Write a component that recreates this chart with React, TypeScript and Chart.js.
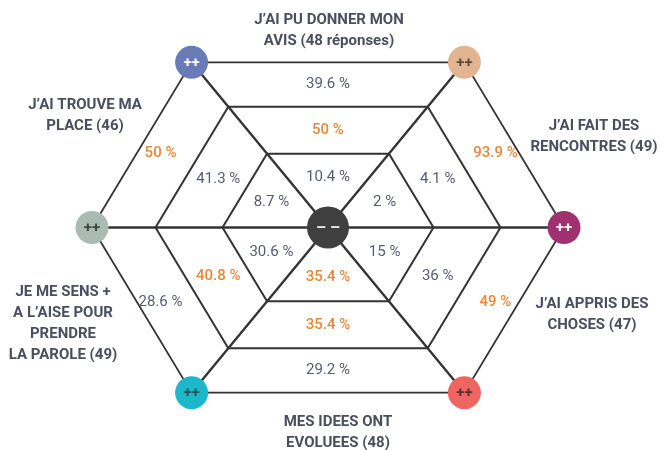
import { useEffect, useRef } from "react";
import { Chart, registerables } from "chart.js";

Chart.register(...registerables);

// ---- data ----
// sectors, counter-clockwise starting from the upper-right one
const SECTOR_LABELS: string[][] = [
  ["J’AI FAIT DES", "RENCONTRES (49)"],
  ["J’AI PU DONNER MON", "AVIS (48 réponses)"],
  ["J’AI TROUVE MA", "PLACE (46)"],
  ["JE ME SENS +", "A L’AISE POUR", "PRENDRE", "LA PAROLE (49)"],
  ["MES IDEES ONT", "EVOLUEES (48)"],
  ["J’AI APPRIS DES", "CHOSES (47)"],
];
const INNER_PCT = [2, 10.4, 8.7, 30.6, 35.4, 15];
const MIDDLE_PCT = [4.1, 50, 41.3, 40.8, 35.4, 36];
const OUTER_PCT = [93.9, 39.6, 50, 28.6, 29.2, 49];
const SPOKE_MARK = "++";
const CENTER_MARK = "– –";

// ---- layout / style ----
const RING_RADII = [105.5, 172.5, 236];
const DIRS: [number, number][] = [
  [1, 0], [0.578, 0.7], [-0.578, 0.7], [-1, 0], [-0.578, -0.7], [0.578, -0.7],
];
const SPOKE_COLORS = ["#a0306f", "#e2b590", "#6a7cb8", "#a9bbb2", "#1db7ca", "#ef6562"];
const SPOKE_TEXT = ["#ffffff", "#5b4c40", "#ffffff", "#3d4846", "#24525a", "#5c3030"];
const CENTER_COLOR = "#3f3f3f";
const LINE_COLOR = "#333333";
const GREY_TEXT = "#575c70";
const ORANGE_TEXT = "#e8873a";
const LABEL_TEXT = "#4a4e5f";
// centre of each sector caption block (same units as the axes)
const LABEL_ANCHORS: [number, number][] = [
  [266, 91], [1, 196.5], [-243, 111.5], [-265, -96], [10, -205], [264, -87],
];
const LABEL_LINE_H = 21;

export default function App() {
  const ref = useRef<HTMLCanvasElement | null>(null);

  useEffect(() => {
    if (!ref.current) return;
    const outerR = RING_RADII[RING_RADII.length - 1];

    const ringSets = RING_RADII.map((r, i) => ({
      data: [...DIRS, DIRS[0]].map(([dx, dy]) => ({ x: r * dx, y: r * dy })),
      showLine: true,
      borderColor: LINE_COLOR,
      borderWidth: i === 2 ? 1.8 : 2,
      pointRadius: 0,
      fill: false,
      order: 3,
    }));
    const spokeSets = DIRS.map(([dx, dy]) => ({
      data: [{ x: 0, y: 0 }, { x: outerR * dx, y: outerR * dy }],
      showLine: true,
      borderColor: LINE_COLOR,
      borderWidth: 2.4,
      pointRadius: 0,
      fill: false,
      order: 2,
    }));
    const circleSet = {
      data: DIRS.map(([dx, dy]) => ({ x: outerR * dx, y: outerR * dy })),
      showLine: false,
      pointRadius: 16.5,
      pointBackgroundColor: SPOKE_COLORS,
      pointBorderWidth: 0,
      order: 1,
    };
    const centerSet = {
      data: [{ x: 0, y: 0 }],
      showLine: false,
      pointRadius: 21,
      pointBackgroundColor: CENTER_COLOR,
      pointBorderWidth: 0,
      order: 1,
    };

    const textPlugin = {
      id: "texts",
      afterDatasetsDraw(chart: any) {
        const ctx = chart.ctx;
        const xs = chart.scales.x;
        const ys = chart.scales.y;
        const px = (x: number) => xs.getPixelForValue(x);
        const py = (y: number) => ys.getPixelForValue(y);
        ctx.save();
        ctx.textAlign = "center";
        ctx.textBaseline = "middle";

        // marks in circles
        DIRS.forEach(([dx, dy], i) => {
          ctx.fillStyle = SPOKE_TEXT[i];
          ctx.font = "bold 15px Roboto";
          ctx.fillText(SPOKE_MARK, px(outerR * dx), py(outerR * dy) + 1);
        });
        ctx.fillStyle = "#e8e8e8";
        ctx.font = "bold 16px Roboto";
        ctx.fillText(CENTER_MARK, px(0), py(0) + 1);

        // values
        const bands = [INNER_PCT, MIDDLE_PCT, OUTER_PCT];
        for (let s = 0; s < 6; s++) {
          const a = DIRS[s];
          const b = DIRS[(s + 1) % 6];
          const mx = (a[0] + b[0]) / 2;
          const my = (a[1] + b[1]) / 2;
          const diag = Math.abs(mx) > 0.1;
          const radii = [
            RING_RADII[0] * 0.68,
            (RING_RADII[0] + RING_RADII[1]) / 2,
            (RING_RADII[1] + RING_RADII[2]) / 2 + (diag ? 8 : 0),
          ];
          const vals = bands.map((band) => band[s]);
          const maxV = Math.max(...vals);
          bands.forEach((band, k) => {
            const v = band[s];
            ctx.fillStyle = v === maxV ? ORANGE_TEXT : GREY_TEXT;
            ctx.font = v === maxV ? "500 15px Roboto" : "15px Roboto";
            ctx.fillText(`${v} %`, px(radii[k] * mx), py(radii[k] * my));
          });
        }

        // sector captions
        ctx.fillStyle = LABEL_TEXT;
        ctx.font = "bold 15px Roboto";
        SECTOR_LABELS.forEach((lines, s) => {
          const [ax, ay] = LABEL_ANCHORS[s];
          const cx = px(ax);
          const cy = py(ay);
          const top = cy - ((lines.length - 1) * LABEL_LINE_H) / 2;
          lines.forEach((ln, j) => ctx.fillText(ln, cx, top + j * LABEL_LINE_H));
        });
        ctx.restore();
      },
    };

    const chart = new Chart(ref.current, {
      type: "scatter",
      data: { datasets: [centerSet, circleSet, ...spokeSets, ...ringSets] as any },
      options: {
        animation: false,
        responsive: false,
        events: [],
        layout: { padding: 0, autoPadding: false },
        plugins: { legend: { display: false }, tooltip: { enabled: false } },
        scales: {
          x: { type: "linear", min: -328, max: 336, display: false },
          y: { type: "linear", min: -222.5, max: 227.5, display: false },
        },
      },
      plugins: [textPlugin],
    });
    return () => chart.destroy();
  }, []);

  return (
    <div style={{ position: "fixed", left: 0, top: 0, width: 664, height: 450, background: "#ffffff" }}>
      <canvas ref={ref} width={664} height={450} />
    </div>
  );
}
